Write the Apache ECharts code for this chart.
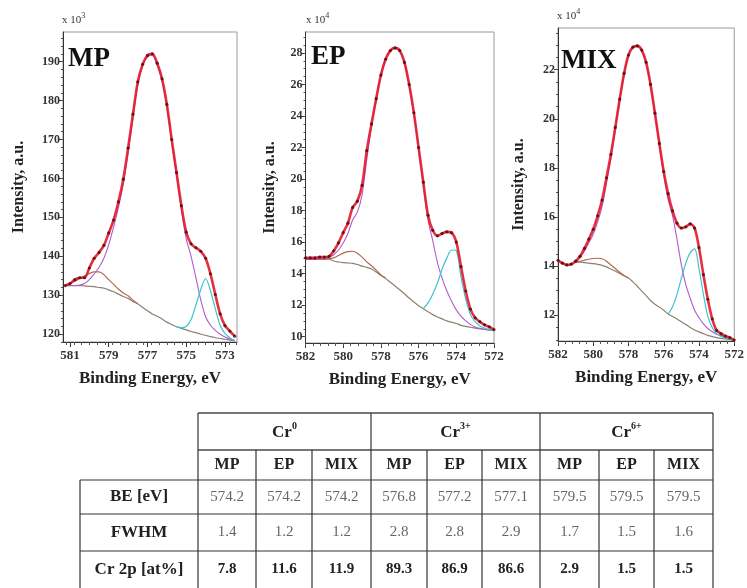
<!DOCTYPE html>
<html><head><meta charset="utf-8">
<script src="https://cdn.jsdelivr.net/npm/echarts@6/dist/echarts.min.js"></script>
<style>html,body{margin:0;padding:0;background:#fff}#c{width:747px;height:588px}</style>
</head><body><div id="c"></div><script>
const SERIF = '"Liberation Serif","Times New Roman",serif';

// ---------- MP panel (x 10^3) ----------
const mpE = [581.25,581.0,580.75,580.5,580.25,580.0,579.75,579.5,579.25,579.0,578.75,578.5,578.25,578.0,577.75,577.5,577.25,577.0,576.75,576.5,576.25,576.0,575.75,575.5,575.25,575.0,574.75,574.5,574.25,574.0,573.75,573.5,573.25,573.0,572.75,572.5];
const mpData = [132.5,133.0,134.0,134.5,134.5,137.0,139.5,141.0,142.8,146.0,149.3,154.0,159.8,167.8,176.5,184.8,189.3,191.6,192.0,189.6,185.6,179.0,170.0,161.5,153.0,146.2,143.2,142.2,141.3,139.5,135.5,130.2,125.2,122.2,120.8,119.5];
const mpCr3 = [132.5,132.5,132.5,132.6,133.0,134.0,135.5,137.2,139.5,143.0,147.5,152.5,158.5,166.5,175.5,184.0,189.0,191.2,191.6,189.3,185.2,178.5,169.5,160.8,152.0,144.5,140.0,134.5,128.8,124.5,122.3,121.0,120.0,119.3,118.8,118.4];
const mpBg = [132.5,132.5,132.5,132.5,132.4,132.3,132.2,132.0,131.8,131.4,130.9,130.3,129.7,129.2,128.4,127.8,126.9,126.0,125.2,124.6,123.9,123.1,122.5,121.9,121.5,121.1,120.7,120.4,120.0,119.7,119.4,119.1,118.9,118.7,118.5,118.3];
const mpCr6E = [581.25,581.0,580.75,580.5,580.25,580.0,579.75,579.5,579.25,579.0,578.75,578.5,578.25,578.0,577.75,577.5];
const mpCr6 = [132.5,133.0,133.6,134.3,135.0,135.6,136.0,136.0,135.3,134.0,132.8,131.6,130.6,129.9,128.7,127.8];
const mpCr0E = [575.5,575.25,575.0,574.75,574.5,574.25,574.0,573.75,573.5,573.25,573.0,572.75,572.5];
const mpCr0 = [121.9,121.7,122.0,123.8,127.5,131.5,134.3,131.2,126.5,122.3,120.2,119.1,118.4];

// ---------- EP panel (x 10^4) ----------
const epE = [582.0,581.75,581.5,581.25,581.0,580.75,580.5,580.25,580.0,579.75,579.5,579.25,579.0,578.75,578.5,578.25,578.0,577.75,577.5,577.25,577.0,576.75,576.5,576.25,576.0,575.75,575.5,575.25,575.0,574.75,574.5,574.25,574.0,573.75,573.5,573.25,573.0,572.75,572.5,572.25,572.0];
const epData = [15.0,15.0,15.0,15.05,15.05,15.1,15.45,15.95,16.6,17.2,18.2,18.6,19.6,21.8,23.5,25.1,26.6,27.6,28.15,28.32,28.15,27.4,26.0,24.2,22.0,19.8,17.7,16.75,16.4,16.55,16.65,16.6,16.0,14.45,12.9,11.75,11.2,10.95,10.75,10.62,10.45];
const epCr3 = [14.92,14.92,14.92,14.92,14.95,15.05,15.2,15.5,15.95,16.55,17.4,17.9,19.0,21.25,23.3,25.0,26.55,27.6,28.15,28.3,28.1,27.35,25.95,24.15,21.95,19.6,17.4,16.1,14.7,13.7,12.9,12.25,11.7,11.3,11.0,10.78,10.62,10.53,10.47,10.42,10.38];
const epBg = [14.92,14.92,14.92,14.92,14.92,14.92,14.8,14.74,14.7,14.68,14.65,14.58,14.48,14.4,14.3,14.1,13.88,13.7,13.45,13.22,12.98,12.72,12.45,12.2,11.97,11.78,11.58,11.4,11.25,11.13,11.0,10.92,10.84,10.72,10.65,10.6,10.54,10.5,10.46,10.42,10.38];
const epCr6E = [582.0,581.75,581.5,581.25,581.0,580.75,580.5,580.25,580.0,579.75,579.5,579.25,579.0,578.75,578.5,578.25,578.0,577.75];
const epCr6 = [14.92,14.92,14.92,14.92,14.92,14.95,15.0,15.15,15.3,15.4,15.42,15.3,15.05,14.75,14.5,14.22,13.92,13.72];
const epCr0E = [575.75,575.5,575.25,575.0,574.75,574.5,574.25,574.0,573.75,573.5,573.25,573.0,572.75,572.5,572.25,572.0];
const epCr0 = [11.78,12.15,12.7,13.4,14.3,15.0,15.5,15.45,13.8,12.4,11.4,10.95,10.68,10.55,10.45,10.4];

// ---------- MIX panel (x 10^4) ----------
const mixE = epE.slice();
const mixData = [14.24,14.12,14.05,14.08,14.2,14.4,14.72,15.1,15.5,16.05,16.69,17.6,18.55,19.65,20.8,21.85,22.6,22.92,22.97,22.8,22.3,21.4,20.23,19.0,17.85,16.95,16.25,15.75,15.55,15.6,15.72,15.55,14.75,13.65,12.65,11.85,11.38,11.25,11.15,11.09,10.99];
const mixCompE = [581.0,580.75,580.5,580.25,580.0,579.75,579.5,579.25,579.0,578.75,578.5,578.25,578.0,577.75,577.5,577.25,577.0,576.75,576.5,576.25,576.0,575.75,575.5,575.25,575.0,574.75,574.5,574.25,574.0,573.75,573.5,573.25,573.0,572.75,572.5,572.25,572.0];
const mixCr3 = [14.18,14.35,14.62,14.95,15.3,15.8,16.42,17.37,18.38,19.55,20.75,21.83,22.6,22.92,22.95,22.78,22.28,21.38,20.2,18.95,17.7,16.7,16.05,15.1,14.05,13.25,12.7,12.2,11.9,11.65,11.46,11.33,11.22,11.17,11.1,11.04,10.98];
const mixBg = [14.17,14.16,14.14,14.12,14.1,14.07,14.03,13.97,13.88,13.8,13.7,13.6,13.52,13.36,13.18,12.98,12.8,12.6,12.45,12.33,12.2,12.05,11.95,11.85,11.73,11.62,11.5,11.4,11.32,11.25,11.18,11.13,11.09,11.06,11.04,11.01,10.98];
const mixCr6E = [581.0,580.75,580.5,580.25,580.0,579.75,579.5,579.25,579.0,578.75,578.5,578.25,578.0];
const mixCr6 = [14.17,14.2,14.24,14.28,14.31,14.32,14.3,14.2,14.05,13.9,13.75,13.62,13.52];
const mixCr0E = [575.75,575.5,575.25,575.0,574.75,574.5,574.25,574.0,573.75,573.5,573.25,573.0,572.75,572.5,572.25,572.0];
const mixCr0 = [12.05,12.35,12.85,13.5,14.12,14.55,14.7,13.9,12.85,11.95,11.5,11.25,11.13,11.08,11.02,10.98];

// ---------- tick labels ----------
const xTicksMP = [573,575,577,579,581];
const xTicksEP = [572,574,576,578,580,582];
const xTicksMIX = [572,574,576,578,580,582];
const yTicksMP = [120,130,140,150,160,170,180,190];
const yTicksEP = [10,12,14,16,18,20,22,24,26,28];
const yTicksMIX = [12,14,16,18,20,22];

// ---------- table ----------
const tableGroups = ['0','3+','6+'];
const tableSamples = ['MP','EP','MIX'];
const rowLabels = ['BE [eV]','FWHM','Cr 2p [at%]'];
const beVals = [574.2,574.2,574.2,576.8,577.2,577.1,579.5,579.5,579.5];
const fwhmVals = [1.4,1.2,1.2,2.8,2.8,2.9,1.7,1.5,1.6];
const atVals = [7.8,11.6,11.9,89.3,86.9,86.6,2.9,1.5,1.5];

const panels = [
  {name:'MP', exp:'3', grid:{left:63, top:32, width:174, height:310}, xMin:572.38, xMax:581.36, yMin:118, yMax:197.6,
   xTicks:xTicksMP, yTicks:yTicksMP, yMinorStep:2, yGap:36, labelPos:[68,46], expPos:[62,12],
   E:mpE, data:mpData, cr3:[mpE,mpCr3], bg:[mpE,mpBg], cr6:[mpCr6E,mpCr6], cr0:[mpCr0E,mpCr0]},
  {name:'EP', exp:'4', grid:{left:305.5, top:32, width:188.5, height:311}, xMin:572, xMax:582, yMin:9.6, yMax:29.33,
   xTicks:xTicksEP, yTicks:yTicksEP, yMinorStep:0.5, yGap:28, labelPos:[311,44], expPos:[306,12],
   E:epE, data:epData, cr3:[epE,epCr3], bg:[epE,epBg], cr6:[epCr6E,epCr6], cr0:[epCr0E,epCr0]},
  {name:'MIX', exp:'4', grid:{left:558, top:28, width:183, height:313}, xMin:572, xMax:582, yMin:10.95, yMax:23.7,
   xTicks:xTicksMIX, yTicks:yTicksMIX, yMinorStep:0.5, yGap:31, labelPos:[561,48], expPos:[557,8],
   E:mixE, data:mixData, cr3:[mixCompE,mixCr3], bg:[mixCompE,mixBg], cr6:[mixCr6E,mixCr6], cr0:[mixCr0E,mixCr0]}
];

function minorValues(min, max, step){
  const out=[]; let v=Math.ceil(min/step-1e-9)*step;
  for(; v<=max+1e-9; v+=step) out.push(+v.toFixed(3));
  return out;
}
const pair = (E,V) => E.map((e,i)=>[e,V[i]]);

const grids=[], xAxes=[], yAxes=[], series=[], graphic=[];
panels.forEach((p,gi)=>{
  grids.push(Object.assign({show:true, borderColor:'#9a9a9a', borderWidth:1, backgroundColor:'transparent', containLabel:false}, p.grid));
  const xMinor = minorValues(p.xMin, p.xMax, 0.4).filter(v=>true);
  xAxes.push({type:'value', gridIndex:gi, position:'bottom', inverse:true, min:p.xMin, max:p.xMax,
    splitLine:{show:false}, axisLine:{show:true, onZero:false, lineStyle:{color:'#333', width:1}},
    axisTick:{show:true, length:5, customValues:p.xTicks, lineStyle:{color:'#333'}},
    axisLabel:{customValues:p.xTicks, fontFamily:SERIF, fontWeight:'bold', fontSize:13, color:'#333', margin:7},
    name:'Binding Energy, eV', nameLocation:'middle', nameGap:28,
    nameTextStyle:{fontFamily:SERIF, fontWeight:'bold', fontSize:17, color:'#222'}});
  xAxes.push({type:'value', gridIndex:gi, position:'bottom', inverse:true, min:p.xMin, max:p.xMax,
    splitLine:{show:false}, axisLine:{show:false}, axisLabel:{show:false},
    axisTick:{show:true, length:3, customValues:xMinor, lineStyle:{color:'#555'}}});
  yAxes.push({type:'value', gridIndex:gi, position:'left', min:p.yMin, max:p.yMax,
    splitLine:{show:false}, axisLine:{show:true, onZero:false, lineStyle:{color:'#333', width:1}},
    axisTick:{show:true, length:4, customValues:p.yTicks, lineStyle:{color:'#333'}},
    axisLabel:{customValues:p.yTicks, fontFamily:SERIF, fontWeight:'bold', fontSize:12, color:'#333', margin:3},
    name:'Intensity, a.u.', nameLocation:'middle', nameGap:p.yGap, nameRotate:90,
    nameTextStyle:{fontFamily:SERIF, fontWeight:'bold', fontSize:16, color:'#222'}});
  yAxes.push({type:'value', gridIndex:gi, position:'left', min:p.yMin, max:p.yMax,
    splitLine:{show:false}, axisLine:{show:false}, axisLabel:{show:false},
    axisTick:{show:true, length:2, customValues:minorValues(p.yMin,p.yMax,p.yMinorStep), lineStyle:{color:'#555'}}});
  const xi=gi*2, yi=gi*2;
  const ln=(d,color,width,z,op)=>({type:'line', xAxisIndex:xi, yAxisIndex:yi, data:d, symbol:'none', smooth:0.3,
    lineStyle:{color, width, opacity:op||1}, z, silent:true, animation:false});
  series.push(ln(pair(p.bg[0],p.bg[1]),'#8c8070',1.2,2));
  series.push(ln(pair(p.cr6[0],p.cr6[1]),'#b06a50',1.2,3));
  series.push(ln(pair(p.cr3[0],p.cr3[1]),'#b05cd0',1.1,4));
  series.push(ln(pair(p.cr0[0],p.cr0[1]),'#38c4d4',1.2,5));
  series.push(ln(pair(p.E,p.data),'#e4182a',2.6,6,0.9));
  series.push({type:'scatter', xAxisIndex:xi, yAxisIndex:yi, data:pair(p.E,p.data), symbolSize:3.2,
    itemStyle:{color:'#4a0a0a'}, z:7, silent:true, animation:false});
  graphic.push({type:'text', x:p.labelPos[0], y:p.labelPos[1], style:{text:p.name, fontFamily:SERIF, fontWeight:'bold', fontSize:27, fill:'#111'}});
  graphic.push({type:'text', x:p.expPos[0], y:p.expPos[1], style:{text:'{a|x 10}{b|'+p.exp+'}',
    rich:{a:{fontFamily:SERIF, fontSize:11, fill:'#333', verticalAlign:'bottom', lineHeight:14},
          b:{fontFamily:SERIF, fontSize:8, fill:'#333', verticalAlign:'top', lineHeight:14}}}});
});

// table geometry
const colX = [198,256,312,371,427,482,540,599,654,713];
const rowY = [413,450,480,514,551,588];
const rowLeft = 80;
const L=(x1,y1,x2,y2,c,w)=>graphic.push({type:'line', shape:{x1,y1,x2,y2}, style:{stroke:c, lineWidth:w}, silent:true});
L(colX[0],rowY[0],colX[9],rowY[0],'#777',2);
L(colX[0],rowY[1],colX[9],rowY[1],'#777',2);
[2,3,4].forEach(r=>L(rowLeft,rowY[r],colX[9],rowY[r],'#333',1.2));
L(rowLeft,rowY[2],rowLeft,rowY[5],'#333',1.2);
[0,3,6,9].forEach(c=>L(colX[c],rowY[0],colX[c],rowY[5],'#333',1.2));
[1,2,4,5,7,8].forEach(c=>L(colX[c],rowY[1],colX[c],rowY[5],'#333',1.2));
const T=(x,y,style)=>graphic.push({type:'text', x, y, style:Object.assign({align:'center', verticalAlign:'middle', fontFamily:SERIF}, style), silent:true});
tableGroups.forEach((g,i)=>{
  const cx=(colX[i*3]+colX[i*3+3])/2, cy=(rowY[0]+rowY[1])/2;
  T(cx,cy,{text:'{a|Cr}{b|'+g+'}', rich:{a:{fontFamily:SERIF, fontWeight:'bold', fontSize:17, fill:'#222', lineHeight:20, verticalAlign:'bottom'},
    b:{fontFamily:SERIF, fontWeight:'bold', fontSize:10, fill:'#222', lineHeight:20, verticalAlign:'top'}}});
});
for(let c=0;c<9;c++){
  const cx=(colX[c]+colX[c+1])/2;
  T(cx,(rowY[1]+rowY[2])/2,{text:tableSamples[c%3], fontWeight:'bold', fontSize:16, fill:'#222'});
  T(cx,(rowY[2]+rowY[3])/2,{text:beVals[c].toFixed(1), fontSize:15, fill:'#666'});
  T(cx,(rowY[3]+rowY[4])/2,{text:fwhmVals[c].toFixed(1), fontSize:15, fill:'#666'});
  T(cx,(rowY[4]+rowY[5])/2,{text:atVals[c].toFixed(1), fontWeight:'bold', fontSize:15, fill:'#222'});
}
rowLabels.forEach((t,r)=>T((rowLeft+colX[0])/2,(rowY[r+2]+rowY[r+3])/2,{text:t, fontWeight:'bold', fontSize:17, fill:'#222'}));

const chart = echarts.init(document.getElementById('c'), null, {renderer:'canvas'});
chart.setOption({animation:false, backgroundColor:'#fff', textStyle:{fontFamily:SERIF},
  grid:grids, xAxis:xAxes, yAxis:yAxes, series, graphic});
</script></body></html>
